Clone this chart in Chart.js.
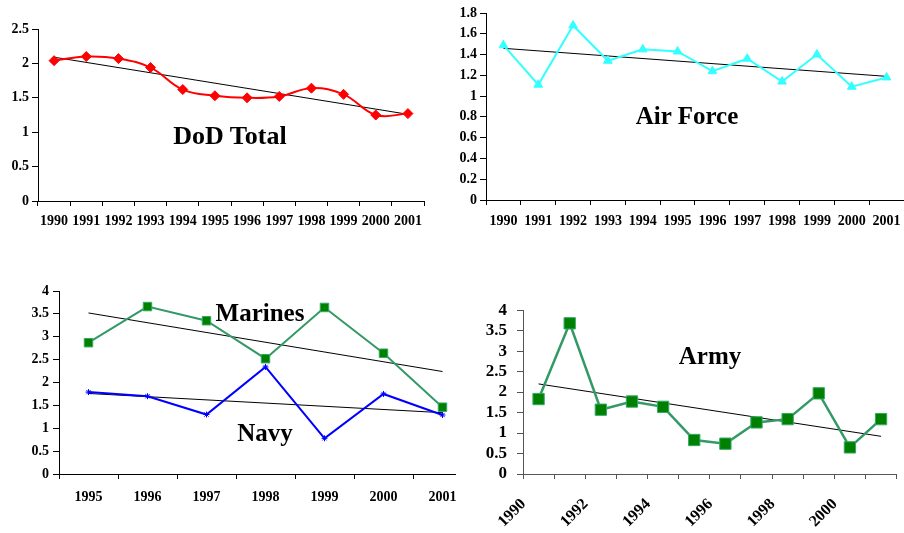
<!DOCTYPE html>
<html>
<head>
<meta charset="utf-8">
<script src="https://cdn.jsdelivr.net/npm/chart.js@4"></script>
<style>
  body { margin: 0; background: #fff; width: 904px; height: 533px; position: relative; overflow: hidden; }
  .box { position: absolute; overflow: hidden; }
  .lbl { position: absolute; font: bold 25px "Liberation Serif", "Times New Roman", serif; transform: translate(-50%, -50%); line-height: 1; white-space: nowrap; color: #000; }
</style>
</head>
<body>
<div class="box" style="left:0;top:0;width:432px;height:240px"><canvas id="dod" width="432" height="240"></canvas></div>
<div class="box" style="left:450px;top:0;width:454px;height:240px"><canvas id="af" width="460" height="240"></canvas></div>
<div class="box" style="left:0;top:270px;width:456px;height:250px"><canvas id="mn" width="480" height="250"></canvas></div>
<div class="box" style="left:470px;top:290px;width:434px;height:243px"><canvas id="army" width="441" height="243"></canvas></div>

<div class="lbl" style="left:230px;top:136px;font-size:26px">DoD Total</div>
<div class="lbl" style="left:687px;top:115px">Air Force</div>
<div class="lbl" style="left:260px;top:312px">Marines</div>
<div class="lbl" style="left:265px;top:432px">Navy</div>
<div class="lbl" style="left:710px;top:355px">Army</div>

<script>
// data
const years = ['1990','1991','1992','1993','1994','1995','1996','1997','1998','1999','2000','2001'];
const dodValues = [2.04, 2.1, 2.07, 1.94, 1.62, 1.53, 1.5, 1.52, 1.64, 1.55, 1.25, 1.27];
const dodTrend = [2.09, 1.26];
const dodYTicks = ['0','0.5','1','1.5','2','2.5'];

const afValues = [1.49, 1.11, 1.68, 1.34, 1.45, 1.43, 1.24, 1.36, 1.14, 1.4, 1.09, 1.18];
const afTrend = [1.46, 1.19];
const afYTicks = ['0','0.2','0.4','0.6','0.8','1','1.2','1.4','1.6','1.8'];

const mnYears = ['1995','1996','1997','1998','1999','2000','2001'];
const marineValues = [2.87, 3.66, 3.35, 2.52, 3.64, 2.64, 1.46];
const marineTrend = [3.52, 2.24];
const navyValues = [1.79, 1.7, 1.3, 2.34, 0.78, 1.75, 1.29];
const navyTrend = [1.76, 1.34];
const mnYTicks = ['0','0.5','1','1.5','2','2.5','3','3.5','4'];

const armyValues = [1.83, 3.68, 1.57, 1.77, 1.64, 0.83, 0.74, 1.26, 1.34, 1.97, 0.65, 1.34];
const armyTrend = [2.2, 0.92];
const armyXTicks = ['1990','1992','1994','1996','1998','2000'];
const armyYTicks = ['0','0.5','1','1.5','2','2.5','3','3.5','4'];

// trend line: first and last category only, gap in between
function trendData(t, n) {
  const arr = new Array(n).fill(null);
  arr[0] = t[0];
  arr[n - 1] = t[1];
  return arr;
}

const serif = '"Liberation Serif","Times New Roman",serif';
const font = size => ({ family: serif, size: size, weight: 'bold' });

function trendSet(t, n) {
  return { data: trendData(t, n), borderColor: '#000', borderWidth: 1, pointRadius: 0, spanGaps: true, tension: 0 };
}

function build(id, cfg) {
  return new Chart(document.getElementById(id), {
    type: 'line',
    data: { labels: cfg.labels, datasets: cfg.datasets },
    options: {
      responsive: false,
      animation: false,
      layout: { padding: cfg.pad },
      plugins: { legend: { display: false }, tooltip: { enabled: false } },
      scales: {
        x: {
          offset: true,
          grid: { offset: true, drawOnChartArea: false, tickLength: 5, tickColor: cfg.axis },
          border: { color: cfg.axis },
          ticks: {
            font: font(cfg.xSize), color: '#000', padding: cfg.xPad, autoSkip: false,
            maxRotation: cfg.rot || 0, minRotation: cfg.rot || 0,
            labelOffset: cfg.labelOffset || 0,
            callback: cfg.xCallback || function (v) { return this.getLabelForValue(v); }
          },
          afterFit: s => { s.height = cfg.xH; }
        },
        y: {
          min: 0, max: cfg.max,
          grid: { drawOnChartArea: false, tickLength: 6, tickColor: cfg.axis },
          border: { color: cfg.axis },
          ticks: { stepSize: cfg.step, autoSkip: false, font: font(cfg.ySize), color: '#000', padding: cfg.yPad, callback: (v, i) => cfg.yTicks[i] },
          afterFit: s => { s.width = cfg.yW; }
        }
      }
    }
  });
}

build('dod', {
  labels: years,
  datasets: [
    { data: dodValues, borderColor: '#ff0000', backgroundColor: '#ff0000', borderWidth: 2, tension: 0.4,
      pointStyle: 'rectRot', pointRadius: 5, pointBorderWidth: 1 },
    trendSet(dodTrend, years.length)
  ],
  pad: { top: 29, right: 8, left: 0, bottom: 0 },
  axis: '#000', max: 2.5, step: 0.5, yTicks: dodYTicks,
  xSize: 14, ySize: 14, xPad: 7, yPad: 3, xH: 39, yW: 38
});

build('af', {
  labels: years,
  datasets: [
    { data: afValues, borderColor: '#33ffff', backgroundColor: '#33ffff', borderWidth: 2, tension: 0,
      pointStyle: 'triangle', pointRadius: 5, pointBorderWidth: 1 },
    trendSet(afTrend, years.length)
  ],
  pad: { top: 13, right: 0, left: 0, bottom: 0 },
  axis: '#000', max: 1.8, step: 0.2, yTicks: afYTicks,
  xSize: 14, ySize: 14, xPad: 8, yPad: 3, xH: 40, yW: 36
});

build('mn', {
  labels: mnYears,
  datasets: [
    { data: marineValues, borderColor: '#339966', backgroundColor: '#008000', borderWidth: 2, tension: 0,
      pointStyle: 'rect', pointRadius: 6, pointBorderColor: '#33aa66', pointBorderWidth: 1 },
    { data: navyValues, borderColor: '#0000ff', backgroundColor: '#0000ff', borderWidth: 2, tension: 0,
      pointStyle: 'star', pointRadius: 3, pointBorderWidth: 1 },
    trendSet(marineTrend, mnYears.length),
    trendSet(navyTrend, mnYears.length)
  ],
  pad: { top: 21, right: 8, left: 0, bottom: 0 },
  axis: '#000', max: 4, step: 0.5, yTicks: mnYTicks,
  xSize: 14, ySize: 14, xPad: 10, yPad: 4, xH: 46, yW: 59
});

build('army', {
  labels: years,
  datasets: [
    { data: armyValues, borderColor: '#339966', backgroundColor: '#008000', borderWidth: 2.5, tension: 0,
      pointStyle: 'rect', pointRadius: 8, pointBorderColor: '#33aa66', pointBorderWidth: 1 },
    trendSet(armyTrend, years.length)
  ],
  pad: { top: 16, right: 0, left: 0, bottom: 0 },
  axis: '#555', max: 4, step: 0.5, yTicks: armyYTicks,
  xSize: 16, ySize: 17, xPad: 16, yPad: 10, xH: 59, yW: 53,
  rot: 45, labelOffset: -15,
  xCallback: (v, i) => (i % 2 === 0 ? armyXTicks[i / 2] : '')
});
</script>
</body>
</html>
